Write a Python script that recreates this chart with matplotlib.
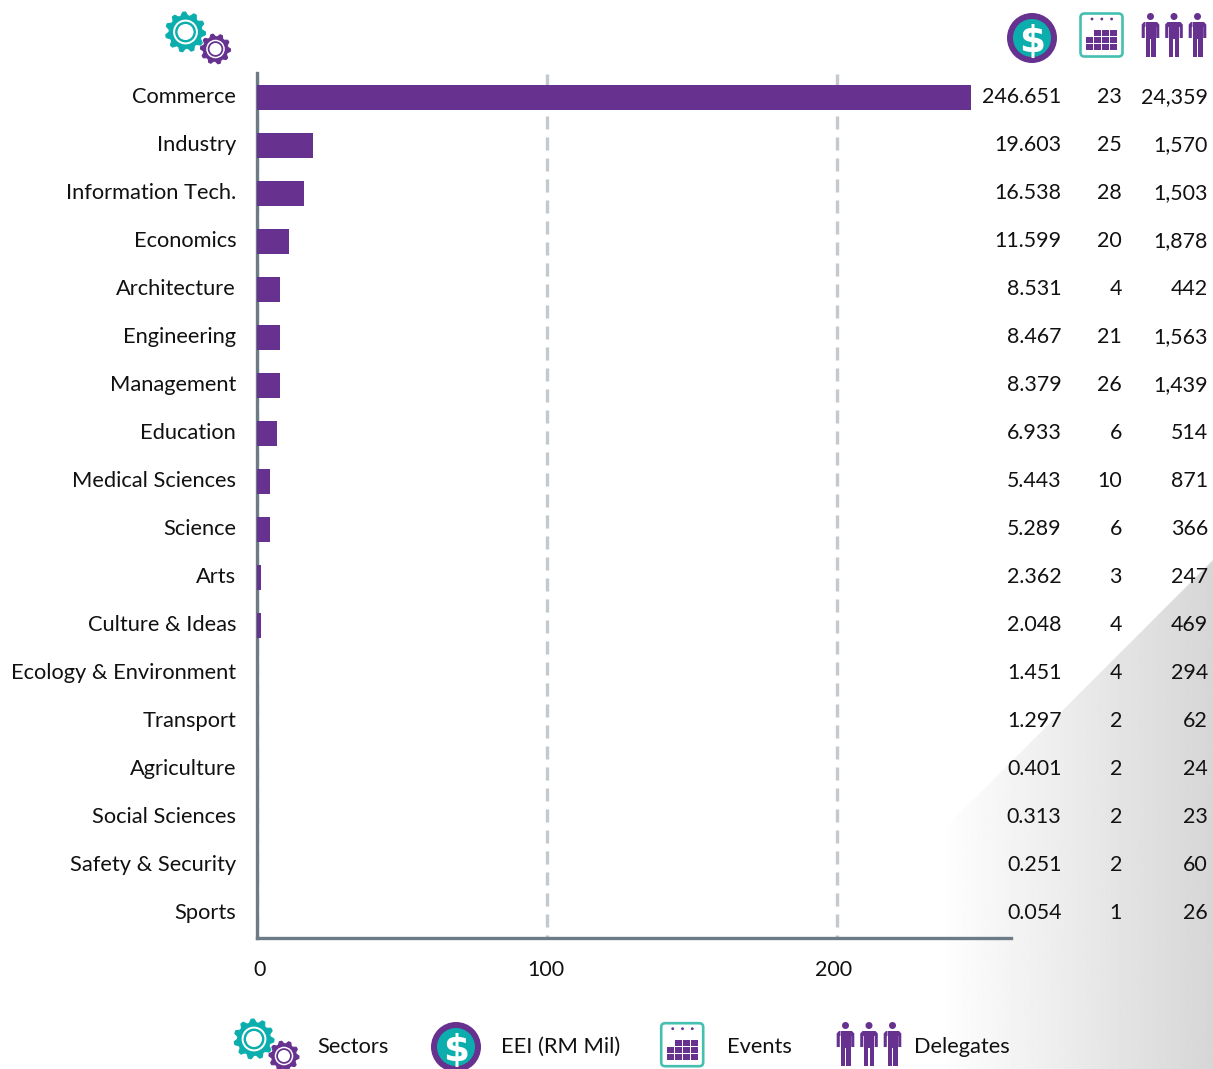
#!/usr/bin/env python3
"""
EEI by sector: bar chart with side columns, icons and a grey corner shade.
"""

import matplotlib
matplotlib.use('Agg')
import matplotlib.pyplot as plt
import numpy as np
from matplotlib.patches import Circle, FancyBboxPatch, Polygon, Rectangle
from matplotlib.transforms import ScaledTranslation, blended_transform_factory

W, H = 1213, 1069
PURPLE = '#66318f'
TEAL = '#0caead'
TEAL_LIGHT = '#45bfb0'
AXIS_GREY = '#6d7b86'
GRID_GREY = '#c3c9cc'
TEXT = '#111111'
LABEL_SIZE = 15.75
NUMBER_SIZE = 15.4

plt.rcParams['font.family'] = ['Lato', 'DejaVu Sans']

sectors = ['Commerce', 'Industry', 'Information Tech.', 'Economics', 'Architecture',
           'Engineering', 'Management', 'Education', 'Medical Sciences', 'Science',
           'Arts', 'Culture & Ideas', 'Ecology & Environment', 'Transport',
           'Agriculture', 'Social Sciences', 'Safety & Security', 'Sports']
eei = [246.651, 19.603, 16.538, 11.599, 8.531, 8.467, 8.379, 6.933, 5.443, 5.289,
       2.362, 2.048, 1.451, 1.297, 0.401, 0.313, 0.251, 0.054]
# bar lengths; they run a little off the printed labels
bar_lengths = [246.0, 19.4, 16.35, 11.2, 8.1, 8.1, 8.1, 7.05, 4.65, 4.65,
               1.55, 1.55, 0, 0, 0, 0, 0, 0]
events = [23, 25, 28, 20, 4, 21, 26, 6, 10, 6, 3, 4, 4, 2, 2, 2, 2, 1]
delegates = ['24,359', '1,570', '1,503', '1,878', '442', '1,563', '1,439', '514', '871',
             '366', '247', '469', '294', '62', '24', '23', '60', '26']
xticks = [0, 100, 200]


def gear(ax, cx, cy, r, color, teeth=10):
    """Gear wheel: a toothed outline with a white ring and a coloured core."""
    angles = np.linspace(0, 2 * np.pi, teeth * 4, endpoint=False)
    radii = np.tile([r, r, r * 0.82, r * 0.82], teeth)
    pts = np.column_stack([cx + radii * np.cos(angles), cy + radii * np.sin(angles)])
    ax.add_patch(Polygon(pts, closed=True, fc=color, ec=color, lw=0.8))
    ax.add_patch(Circle((cx, cy), r * 0.62, fc='white', ec='none'))
    ax.add_patch(Circle((cx, cy), r * 0.52, fc=color, ec='none'))
    ax.add_patch(Circle((cx, cy), r * 0.4, fc='white', ec='none'))


def gears(ax, x, y):
    gear(ax, x, y, 20, TEAL, 11)
    gear(ax, x + 30, y + 17, 15, PURPLE, 10)


def coin(ax, cx, cy):
    ax.add_patch(Circle((cx, cy), 25, fc=PURPLE, ec='none'))
    ax.add_patch(Circle((cx, cy), 19, fc=TEAL, ec='none'))
    ax.text(cx, cy, '$', color='white', fontsize=27, fontweight='bold',
            ha='center', va='center_baseline', family=['DejaVu Sans'])


def calendar(ax, x, y):
    ax.add_patch(FancyBboxPatch((x + 1.5, y + 1.5), 42, 43, boxstyle='round,pad=0,rounding_size=4',
                                fc='white', ec=TEAL_LIGHT, lw=1.9))
    for i in range(3):
        ax.add_patch(Circle((x + 13 + 9.8 * i, y + 7), 1.4, fc=PURPLE, ec='none'))
    for row in range(3):
        for col in range(4):
            if row == 0 and col == 0:
                continue
            ax.add_patch(Rectangle((x + 7 + col * 8.1, y + 18 + row * 7), 7, 6,
                                   fc=PURPLE, ec='none'))


def person(ax, cx, y):
    ax.add_patch(Circle((cx, y + 3.5), 3.5, fc=PURPLE, ec='none'))
    body = [(cx - 5, y + 9), (cx + 5, y + 9), (cx + 5, y + 44), (cx + 0.7, y + 44),
            (cx + 0.7, y + 26), (cx - 0.7, y + 26), (cx - 0.7, y + 44), (cx - 5, y + 44)]
    ax.add_patch(Polygon(body, closed=True, fc=PURPLE, ec='none'))
    for s in (-1, 1):
        arm = [(cx + s * 5, y + 9), (cx + s * 6.5, y + 9), (cx + s * 8.8, y + 11.5),
               (cx + s * 8.8, y + 25), (cx + s * 5.7, y + 25), (cx + s * 5.7, y + 14), (cx + s * 5, y + 14)]
        ax.add_patch(Polygon(arm, closed=True, fc=PURPLE, ec='none'))


def people(ax, x, y, step=23.5):
    for i in range(3):
        person(ax, x + i * step, y)


def main():
    fig = plt.figure(figsize=(W / 100, H / 100), dpi=100, facecolor='white')

    # pixel-coordinate layer for the background, icons and legend text
    bg = fig.add_axes([0, 0, 1, 1], zorder=0)
    bg.axis('off')

    # grey corner: horizontal fade, clipped to the diagonal
    fade = np.linspace(0.995, 0.84, 256)[None, :]
    img = bg.imshow(fade, extent=(945, W, H, 555), cmap='gray', vmin=0, vmax=1,
                    aspect='auto', zorder=0)
    corner = Polygon([(W, 560), (945, 828), (945, H), (W, H)], closed=True,
                     transform=bg.transData, fc='none', ec='none')
    bg.add_patch(corner)
    img.set_clip_path(corner)
    bg.set_xlim(0, W)
    bg.set_ylim(H, 0)

    # main bar chart, pixel rectangle x 256.5-1011, y 73-937.5
    ax = fig.add_axes([256.5 / W, 1 - 937.5 / H, (1011 - 256.5) / W, (937.5 - 73) / H], zorder=1)
    ax.patch.set_alpha(0)
    y = np.arange(len(sectors))
    ax.barh(y, bar_lengths, height=0.52, color=PURPLE, zorder=3)
    ax.set_xlim(0, 754.5 / 2.905)
    ax.set_ylim(17.504, -0.506)
    ax.set_xticks(xticks)
    ax.set_xticklabels(xticks, fontsize=NUMBER_SIZE, color=TEXT)
    ax.set_yticks(y)
    ax.set_yticklabels(sectors, fontsize=LABEL_SIZE, color=TEXT)
    ax.tick_params(axis='x', length=0, pad=16)
    ax.tick_params(axis='y', length=0, pad=15)
    # the reference's tick labels sit a few pixels off their gridlines
    for label, dx in zip(ax.get_xticklabels(), [3.5, -1, -3.5]):
        label.set_transform(label.get_transform() + ScaledTranslation(dx / 100, 0, fig.dpi_scale_trans))
    for label in ax.get_yticklabels():
        label.set_transform(label.get_transform() + ScaledTranslation(0.5 / 100, 2.2 / 100, fig.dpi_scale_trans))
    ax.grid(axis='x', color=GRID_GREY, lw=2.4, ls=(3.0, (3.9, 2.4)), zorder=1)
    for side in ['top', 'right']:
        ax.spines[side].set_visible(False)
    for side in ['left', 'bottom']:
        ax.spines[side].set_color(AXIS_GREY)
        ax.spines[side].set_linewidth(2.4)

    # side columns, right aligned, sharing the bar rows
    rows = blended_transform_factory(bg.transData, ax.transData)
    for i in y:
        bg.text(1061.5, i, f'{eei[i]:.3f}', transform=rows, ha='right', va='center',
                fontsize=NUMBER_SIZE, color=TEXT)
        bg.text(1122, i, str(events[i]), transform=rows, ha='right', va='center',
                fontsize=NUMBER_SIZE, color=TEXT)
        bg.text(1208, i, delegates[i], transform=rows, ha='right', va='center',
                fontsize=NUMBER_SIZE, color=TEXT)

    # header icons
    gears(bg, 185.5, 32)
    coin(bg, 1032, 38)
    calendar(bg, 1079, 12)
    people(bg, 1150.5, 13)

    # legend row
    gears(bg, 254, 1039)
    bg.text(317, 1047, 'Sectors', ha='left', va='center', fontsize=LABEL_SIZE, color=TEXT)
    coin(bg, 456, 1047)
    bg.text(501, 1047, 'EEI (RM Mil)', ha='left', va='center', fontsize=LABEL_SIZE, color=TEXT)
    calendar(bg, 659.7, 1021.7)
    bg.text(727, 1047, 'Events', ha='left', va='center', fontsize=LABEL_SIZE, color=TEXT)
    people(bg, 845.5, 1022)
    bg.text(914, 1047, 'Delegates', ha='left', va='center', fontsize=LABEL_SIZE, color=TEXT)

    fig.savefig('out.png', dpi=100, facecolor='white')
    plt.close(fig)


if __name__ == "__main__":
    main()
